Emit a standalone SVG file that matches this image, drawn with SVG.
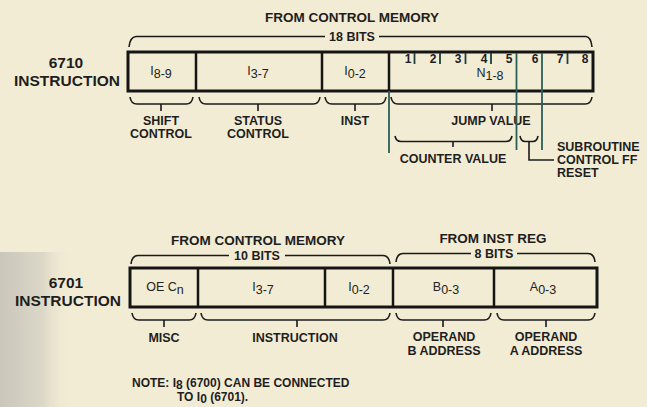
<svg xmlns="http://www.w3.org/2000/svg" width="647" height="407" viewBox="0 0 647 407">
<defs>
<linearGradient id="shade" x1="0" y1="0" x2="1" y2="0">
<stop offset="0" stop-color="#c9c6bb"/>
<stop offset="0.6" stop-color="#dcd8c8"/>
<stop offset="1" stop-color="#f3ecd4" stop-opacity="0"/>
</linearGradient>
<style>
.t{font-family:"Liberation Sans",Arial,sans-serif;font-weight:bold;fill:#1e1e1e;text-anchor:middle}
.h{font-size:13.5px}
.l{font-size:12.5px}
.big{font-size:15.5px}
.c{font-family:"Liberation Sans",Arial,sans-serif;font-size:12.5px;fill:#222;text-anchor:middle}
.box{fill:none;stroke:#151515;stroke-width:3}
.div{stroke:#151515;stroke-width:2.5}
.br{fill:none;stroke:#1a1a1a;stroke-width:1.6}
.tl{stroke:#2a5f58;stroke-width:1.8}
.tk{stroke:#1f3f3a;stroke-width:1.8}
.n{font-size:12px}
.s{text-anchor:start}
.note{font-size:12px}
</style>
</defs>
<rect width="647" height="407" fill="#f3ecd4"/>
<rect x="0" y="252" width="72" height="155" fill="url(#shade)"/>

<g id="label-6710">
<text class="t big" x="66" y="68">6710</text>
<text class="t big" x="67" y="86">INSTRUCTION</text>
</g>

<g id="header-6710">
<text class="t h" x="352" y="22">FROM CONTROL MEMORY</text>
<text class="t l" x="352" y="40.5">18 BITS</text>
</g>

<g id="box-6710">
<rect class="box" x="128" y="52" width="465" height="39"/>
<line class="div" x1="196" y1="52" x2="196" y2="91"/>
<line class="div" x1="322" y1="52" x2="322" y2="91"/>
<line class="div" x1="389" y1="52" x2="389" y2="91"/>
<text class="c" x="161" y="75">I<tspan dy="3">8-9</tspan></text>
<text class="c" x="258" y="75">I<tspan dy="3">3-7</tspan></text>
<text class="c" x="355" y="75">I<tspan dy="3">0-2</tspan></text>
<text class="c" x="490" y="77">N<tspan dy="3">1-8</tspan></text>
<g class="t n">
<text x="408" y="62.5">1</text>
<text x="433" y="62.5">2</text>
<text x="458" y="62.5">3</text>
<text x="484" y="62.5">4</text>
<text x="509" y="62.5">5</text>
<text x="535" y="62.5">6</text>
<text x="560" y="62.5">7</text>
<text x="585" y="62.5">8</text>
</g>
<line class="tk" x1="414.5" y1="53" x2="414.5" y2="64"/>
<line class="tk" x1="440" y1="53" x2="440" y2="64"/>
<line class="tk" x1="465.5" y1="53" x2="465.5" y2="64"/>
<line class="tk" x1="491" y1="53" x2="491" y2="64"/>
<line class="tk" x1="567.5" y1="53" x2="567.5" y2="64"/>
</g>

<g id="labels-6710">
<text class="t l" x="161" y="125">SHIFT</text>
<text class="t l" x="161" y="138">CONTROL</text>
<text class="t l" x="258" y="125">STATUS</text>
<text class="t l" x="258" y="138">CONTROL</text>
<text class="t l" x="355" y="125">INST</text>
<text class="t l" x="491" y="125">JUMP VALUE</text>
<text class="t l" x="453" y="162.5">COUNTER VALUE</text>
<text class="t l s" x="557" y="151">SUBROUTINE</text>
<text class="t l s" x="557" y="164">CONTROL FF</text>
<text class="t l s" x="557" y="177">RESET</text>
</g>

<g id="label-6701">
<text class="t big" x="66" y="288">6701</text>
<text class="t big" x="68" y="306">INSTRUCTION</text>
</g>

<g id="header-6701">
<text class="t h" x="258" y="245">FROM CONTROL MEMORY</text>
<text class="t l" x="257" y="259.5">10 BITS</text>
<text class="t h" x="493" y="243">FROM INST REG</text>
<text class="t l" x="494" y="257.5">8 BITS</text>
</g>

<g id="box-6701">
<rect class="box" x="130" y="268" width="467" height="39"/>
<line class="div" x1="198" y1="268" x2="198" y2="307"/>
<line class="div" x1="325" y1="268" x2="325" y2="307"/>
<line class="div" x1="393" y1="268" x2="393" y2="307"/>
<line class="div" x1="494" y1="268" x2="494" y2="307"/>
<text class="c" x="165" y="291">OE C<tspan dy="3">n</tspan></text>
<text class="c" x="263" y="291">I<tspan dy="3">3-7</tspan></text>
<text class="c" x="359" y="291">I<tspan dy="3">0-2</tspan></text>
<text class="c" x="446" y="291">B<tspan dy="3">0-3</tspan></text>
<text class="c" x="543" y="291">A<tspan dy="3">0-3</tspan></text>
</g>

<g id="labels-6701">
<text class="t l" x="164" y="342">MISC</text>
<text class="t l" x="295" y="342">INSTRUCTION</text>
<text class="t l" x="444" y="341">OPERAND</text>
<text class="t l" x="444" y="355">B ADDRESS</text>
<text class="t l" x="546" y="341">OPERAND</text>
<text class="t l" x="546" y="355">A ADDRESS</text>
</g>

<g id="note">
<text class="t s note" x="132" y="387">NOTE: I<tspan dy="1.5">8</tspan><tspan dy="-1.5"> (6700) CAN BE CONNECTED</tspan></text>
<text class="t s note" x="177" y="401">TO I<tspan dy="1.5">0</tspan><tspan dy="-1.5"> (6701).</tspan></text>
</g>

<g id="connectors">
<path class="br" d="M129,47 Q130,37 136,36.5 H325 M379,36.5 H586 Q591,37 592,47"/>
<path class="br" d="M130,97 Q131,104 137,104 H186 Q192,104 193,97 M161,104 V111"/>
<path class="br" d="M199,97 Q200,104 206,104 H313 Q319,104 320,97 M258,104 V111"/>
<path class="br" d="M325,97 Q326,104 332,104 H379 Q385,104 386,97 M355,104 V111"/>
<path class="br" d="M391,97 Q392,104 398,104 H585 Q591,104 592,97 M492,104 V111"/>
<path class="br" d="M395,136 Q396,141.5 401,141.5 H506 Q511,141.5 512,136 M453,141.5 V147"/>
<path class="br" d="M520,136 Q521,141.5 525,141.5 H533 Q537,141.5 538,136 M529,141.5 V160 H554"/>
<line class="tl" x1="389" y1="91" x2="389" y2="153"/>
<line class="tl" x1="516.5" y1="53" x2="516.5" y2="150"/>
<line class="tl" x1="542" y1="53" x2="542" y2="150"/>
<path class="br" d="M131,264 Q132,255.5 138,255.5 H229 M285,255.5 H383 Q389,255.5 390,264"/>
<path class="br" d="M396,262 Q397,253.5 403,253.5 H471 M517,253.5 H588 Q594,253.5 595,262"/>
<path class="br" d="M132,313 Q133,320 139,320 H189 Q195,320 196,313 M164,320 V327"/>
<path class="br" d="M201,313 Q202,320 208,320 H383 Q389,320 390,313 M297,320 V327"/>
<path class="br" d="M396,313 Q397,320 403,320 H484 Q490,320 491,313 M443,320 V327"/>
<path class="br" d="M497,313 Q498,320 504,320 H588 Q594,320 595,313 M546,320 V327"/>
</g>
</svg>
